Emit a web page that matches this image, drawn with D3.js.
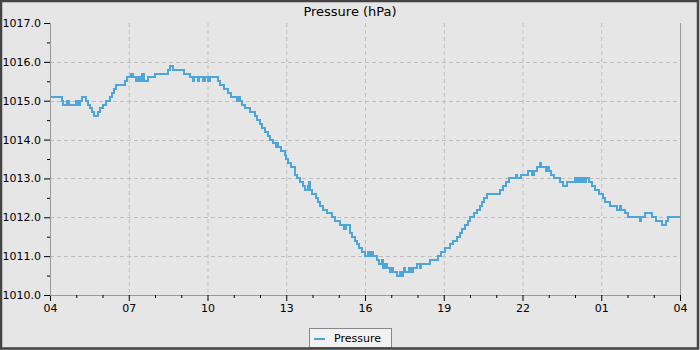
<!DOCTYPE html>
<html><head><meta charset="utf-8">
<script src="https://cdn.jsdelivr.net/npm/d3@7"></script>
<style>body{margin:0;background:#fff}svg{display:block}</style>
</head><body><svg id="c" width="700" height="350"></svg>
<script>
// minutes since 04:00 and pressure readings (hPa), step series
const minutes = [0,27,30,39,43,59,64,69,73,82,87,91,96,101,110,114,121,128,137,142,146,151,171,176,185,190,197,201,206,210,215,224,240,270,274,281,306,320,327,329,338,341,350,354,361,366,384,389,398,407,414,423,427,432,434,439,446,457,469,473,480,485,491,498,503,510,517,519,521,528,537,539,544,551,560,565,571,578,583,590,592,594,599,608,613,617,624,633,645,651,663,667,672,677,686,690,697,702,706,713,720,727,729,734,738,747,752,759,761,766,770,777,782,784,793,800,802,807,809,811,821,825,830,839,846,848,859,869,887,894,903,914,921,930,937,942,949,955,960,969,976,983,987,992,999,1029,1035,1042,1049,1065,1067,1077,1083,1093,1102,1106,1113,1120,1122,1134,1138,1141,1145,1152,1166,1173,1182,1200,1205,1209,1211,1216,1221,1225,1232,1239,1246,1255,1264,1269,1280,1296,1303,1305,1314,1321,1349,1351,1360,1376,1385,1399,1408,1413,1440];
const pressure = [1015.1,1015.0,1014.9,1015.0,1014.9,1015.0,1014.9,1015.0,1015.1,1015.0,1014.9,1014.8,1014.7,1014.6,1014.7,1014.8,1014.9,1015.0,1015.1,1015.2,1015.3,1015.4,1015.5,1015.6,1015.7,1015.6,1015.5,1015.6,1015.5,1015.7,1015.5,1015.6,1015.7,1015.8,1015.9,1015.8,1015.7,1015.6,1015.5,1015.6,1015.5,1015.6,1015.5,1015.6,1015.5,1015.6,1015.5,1015.4,1015.3,1015.2,1015.1,1015.1,1015.0,1015.1,1015.0,1014.9,1014.8,1014.7,1014.6,1014.5,1014.4,1014.3,1014.2,1014.1,1014.0,1013.9,1013.8,1013.9,1013.8,1013.7,1013.6,1013.5,1013.4,1013.3,1013.1,1013.0,1012.9,1012.8,1012.7,1012.8,1012.9,1012.7,1012.6,1012.5,1012.4,1012.3,1012.2,1012.1,1012.0,1011.9,1011.8,1011.8,1011.7,1011.8,1011.6,1011.5,1011.4,1011.3,1011.2,1011.1,1011.0,1011.1,1011.0,1011.1,1011.0,1010.9,1010.8,1010.9,1010.7,1010.8,1010.7,1010.6,1010.7,1010.6,1010.5,1010.6,1010.5,1010.6,1010.7,1010.6,1010.7,1010.6,1010.7,1010.8,1010.7,1010.8,1010.8,1010.9,1011.0,1011.1,1011.2,1011.3,1011.4,1011.5,1011.6,1011.7,1011.8,1011.9,1012.0,1012.1,1012.2,1012.3,1012.4,1012.5,1012.6,1012.7,1012.8,1012.9,1013.0,1013.1,1013.0,1013.1,1013.1,1013.2,1013.1,1013.2,1013.3,1013.4,1013.3,1013.2,1013.3,1013.2,1013.1,1013.0,1012.9,1012.8,1012.9,1013.0,1012.9,1013.0,1012.9,1013.0,1012.9,1013.0,1012.9,1012.8,1012.7,1012.6,1012.5,1012.4,1012.3,1012.2,1012.3,1012.2,1012.1,1012.0,1011.9,1012.0,1012.1,1012.0,1011.9,1011.8,1011.9,1012.0,1012.0];
const xTickLabels = ["04","07","10","13","16","19","22","01","04"];
const yTicks = [1010,1011,1012,1013,1014,1015,1016,1017];
const title = "Pressure (hPa)";
const seriesName = "Pressure";

const svg = d3.select("#c");
const W = 700, H = 350;
const m = {l:50, r:20, t:23, b:55};
const font = "DejaVu Sans, sans-serif";

svg.append("rect").attr("width",W).attr("height",H).attr("fill","#e6e6e6");

const x = d3.scaleLinear().domain([0,1440]).range([m.l, W-m.r]);
const y = d3.scaleLinear().domain([1010,1017]).range([H-m.b, m.t]);

const data = minutes.map((t,i)=>({t, v:pressure[i]}));
const majorX = d3.range(0,1441,180);
const minorX = d3.range(0,1441,60).filter(d=>d%180!==0);
const minorY = d3.range(1010.5,1017,1);

// grid
const g = svg.append("g");
g.selectAll(".gx").data(majorX.slice(1,-1)).join("line")
  .attr("x1",d=>x(d)+0.5).attr("x2",d=>x(d)+0.5).attr("y1",y(1017)).attr("y2",y(1010))
  .attr("stroke","#bfbfbf").attr("stroke-dasharray","4,3");
g.selectAll(".gy").data(yTicks.slice(1,-1)).join("line")
  .attr("y1",d=>Math.round(y(d))+0.5).attr("y2",d=>Math.round(y(d))+0.5).attr("x1",x(0)).attr("x2",x(1440))
  .attr("stroke","#bfbfbf").attr("stroke-dasharray","4,3");

// line
const line = d3.line().x(d=>x(d.t)).y(d=>y(d.v)).curve(d3.curveStepAfter);
svg.append("path").datum(data).attr("d",line).attr("fill","none")
  .attr("stroke","#4ca6da").attr("stroke-width",2).attr("shape-rendering","crispEdges");

// axes
const xAxis = d3.axisBottom(x).tickValues(majorX).tickSize(6).tickPadding(3)
  .tickFormat((d,i)=>xTickLabels[i]);
const gx = svg.append("g").attr("transform",`translate(0,${y(1010)})`).call(xAxis);
const gxm = svg.append("g").attr("transform",`translate(0,${y(1010)})`)
  .call(d3.axisBottom(x).tickValues(minorX).tickSize(3).tickFormat(""));
const yAxis = d3.axisLeft(y).tickValues(yTicks).tickSize(6).tickPadding(3).tickFormat(d3.format(".1f"));
const gy = svg.append("g").attr("transform",`translate(${x(0)},0)`).call(yAxis);
const gym = svg.append("g").attr("transform",`translate(${x(0)},0)`)
  .call(d3.axisLeft(y).tickValues(minorY).tickSize(3).tickFormat(""));
[gx,gxm,gy,gym].forEach(a=>{
  a.select(".domain").attr("stroke","#999");
  a.selectAll(".tick line").attr("stroke","#000");
  a.selectAll("text").attr("font-family",font).attr("font-size",11).attr("fill","#000");
});
gxm.select(".domain").remove(); gym.select(".domain").remove();
// right border
svg.append("line").attr("x1",x(1440)+0.5).attr("x2",x(1440)+0.5).attr("y1",y(1017)).attr("y2",y(1010))
  .attr("stroke","#999");

// title
svg.append("text").attr("x",W/2).attr("y",16).attr("text-anchor","middle")
  .attr("font-family",font).attr("font-size",13).attr("fill","#000").text(title);

// legend
const lg = svg.append("g");
lg.append("rect").attr("x",309.5).attr("y",328.5).attr("width",82).attr("height",19)
  .attr("fill","#f2f2f2").attr("stroke","#888");
lg.append("line").attr("x1",314).attr("x2",325).attr("y1",339).attr("y2",339)
  .attr("stroke","#4ca6da").attr("stroke-width",2);
lg.append("text").attr("x",334).attr("y",342).attr("font-family",font).attr("font-size",11)
  .attr("fill","#000").text(seriesName);

// outer frame
svg.append("rect").attr("x",1).attr("y",1).attr("width",697).attr("height",347.5)
  .attr("fill","none").attr("stroke","#444").attr("stroke-width",2.5);
</script></body></html>
